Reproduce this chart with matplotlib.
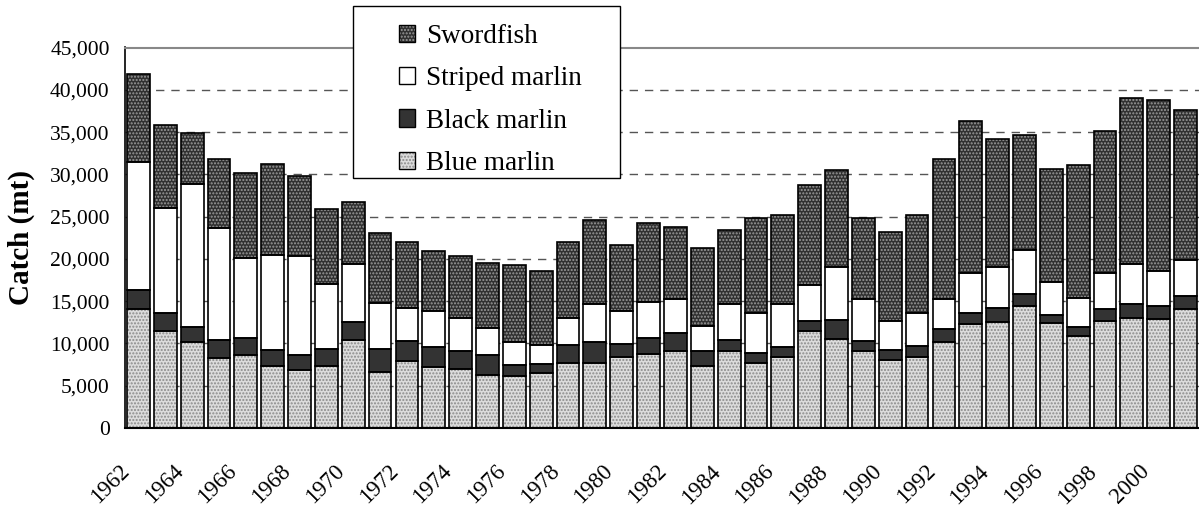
import numpy as np
import matplotlib
matplotlib.use('Agg')
import matplotlib.pyplot as plt
import matplotlib.transforms as mtransforms
from matplotlib.patches import Patch, Rectangle
from matplotlib.ticker import FuncFormatter

plt.rcParams['font.family'] = ['Liberation Serif', 'DejaVu Serif']
plt.rcParams['hatch.linewidth'] = 1.0

# catch by species (mt), 1962-2001
years = list(range(1962, 2002))
blue_marlin = [14110, 11430, 10130, 8230, 8590, 7290, 6820, 7290, 10360, 6660,
               7920, 7170, 6970, 6260, 6110, 6500, 7680, 7680, 8350, 8750,
               9100, 7290, 9100, 7680, 8390, 11430, 10520, 9140, 8080, 8430,
               10170, 12330, 12490, 14460, 12370, 10910, 12690, 13000, 12880, 14110]
black_marlin = [2200, 2200, 1770, 2210, 2050, 1890, 1850, 2090, 2210, 2720,
                2320, 2370, 2090, 2370, 1300, 1060, 2170, 2450, 1580, 1850,
                2090, 1770, 1340, 1190, 1180, 1260, 2210, 1100, 1100, 1300,
                1530, 1260, 1690, 1340, 990, 990, 1340, 1700, 1500, 1530]
striped_marlin = [15090, 12340, 16900, 13200, 9450, 11230, 11620, 7680, 6820, 5400,
                  3980, 4330, 3900, 3150, 2720, 2250, 3110, 4530, 3940, 4330,
                  4100, 3040, 4220, 4720, 5090, 4170, 6300, 5050, 3470, 3860,
                  3590, 4730, 4850, 5200, 3860, 3430, 4290, 4690, 4140, 4260]
swordfish = [10440, 9810, 6110, 8200, 10050, 10800, 9540, 8830, 7360, 8270,
             7770, 7050, 7410, 7720, 9180, 8790, 9030, 9970, 7760, 9300,
             8430, 9180, 8700, 11190, 10480, 11820, 11430, 9490, 10560, 11550,
             16550, 18010, 15130, 13710, 13430, 15720, 16790, 19580, 20330, 17650]

# name, values, face colour, hatch, hatch colour
series = [
    ('Blue marlin', blue_marlin, '#dcdcdc', '.....', '#8a8a8a'),
    ('Black marlin', black_marlin, '#333333', None, '#333333'),
    ('Striped marlin', striped_marlin, 'white', None, 'white'),
    ('Swordfish', swordfish, '#303030', '.....', '#9a9a9a'),
]

fig = plt.figure(figsize=(11.99, 5.08), dpi=100)
ax = fig.add_axes([125 / 1199, 80 / 508, 1074 / 1199, 380.5 / 508])

x = np.arange(len(years))
width = 0.85
bottom = np.zeros(len(years))
handles = []
for name, vals, fc, hatch, hc in series:
    vals = np.array(vals, dtype=float)
    ax.bar(x, vals, width, bottom=bottom, color=fc, hatch=hatch,
           edgecolor=hc, linewidth=0, zorder=2)
    ax.bar(x, vals, width, bottom=bottom, facecolor='none',
           edgecolor='black', linewidth=1.2, zorder=3)
    bottom += vals
    handles.append((Patch(facecolor=fc, hatch=hatch, edgecolor=hc, linewidth=0),
                    Patch(facecolor='none', edgecolor='black', linewidth=1.0)))

ax.set_xlim(-0.5, len(years) - 0.5)
ax.set_ylim(0, 45000)
ax.set_yticks(np.arange(0, 45001, 5000))
ax.yaxis.set_major_formatter(FuncFormatter(lambda v, p: f'{int(v):,}'))
ax.yaxis.grid(True, linestyle=(0, (6, 5)), color='#555555', linewidth=1.0, zorder=0)
ax.set_axisbelow(True)

ax.set_xticks(x[::2])
ax.set_xticklabels([str(y) for y in years[::2]], rotation=45, ha='right',
                   va='center', rotation_mode='anchor')
ax.tick_params(axis='x', length=0, pad=29, labelsize=16.5)
ax.tick_params(axis='y', length=0, pad=11, labelsize=15.5)
shift = mtransforms.ScaledTranslation(-12 / 100, 0, fig.dpi_scale_trans)
for lab in ax.get_xticklabels():
    lab.set_transform(lab.get_transform() + shift)

ax.spines['right'].set_visible(False)
ax.spines['top'].set_color('#888888')
ax.spines['top'].set_linewidth(1.5)
ax.spines['left'].set_linewidth(1.2)
ax.spines['bottom'].set_linewidth(1.5)

ax.set_ylabel('Catch (mt)', fontsize=21, fontweight='bold', labelpad=11)

# legend frame drawn separately, entries placed inside it
fig.patches.append(Rectangle((353 / 1199, 1 - 178 / 508), 267 / 1199, 172 / 508,
                             transform=fig.transFigure, facecolor='white',
                             edgecolor='black', linewidth=1.0, zorder=5))
leg = fig.legend(handles[::-1], [s[0] for s in series][::-1],
                 loc='upper left', bbox_to_anchor=(380 / 1199, 1 - 5 / 508),
                 frameon=False, fontsize=19.5, handlelength=0.6, handleheight=0.6,
                 handletextpad=0.4, labelspacing=0.64, borderpad=0.2)
leg.set_zorder(6)

plt.savefig('out.png', dpi=100)
